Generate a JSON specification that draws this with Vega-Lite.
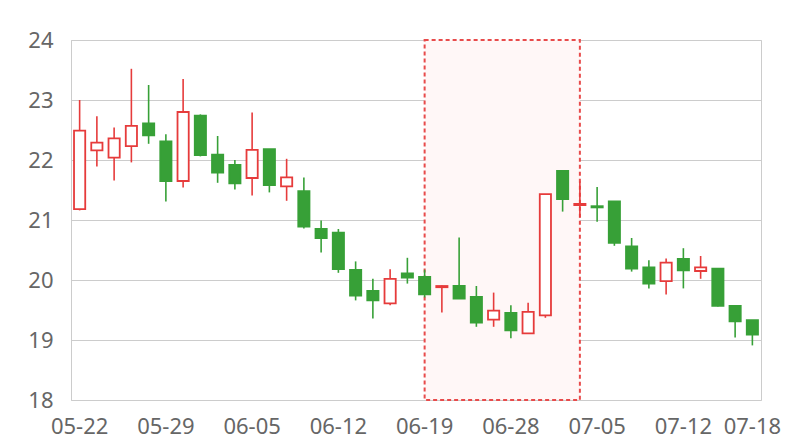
{
  "$schema": "https://vega.github.io/schema/vega-lite/v6.json",
  "width": 690,
  "height": 360,
  "autosize": "none",
  "padding": {"left": 71, "top": 40, "right": 39, "bottom": 40},
  "background": "white",
  "config": {
    "view": {"stroke": "#cccccc", "strokeWidth": 1},
    "font": "Noto Sans"
  },
  "datasets": {
    "candles": [
      {"date": "05-22", "open": 21.18, "close": 22.49, "high": 23.0, "low": 21.16},
      {"date": "05-23", "open": 22.16, "close": 22.29, "high": 22.73, "low": 21.89},
      {"date": "05-24", "open": 22.04, "close": 22.36, "high": 22.54, "low": 21.66},
      {"date": "05-25", "open": 22.23, "close": 22.57, "high": 23.52, "low": 21.96},
      {"date": "05-26", "open": 22.61, "close": 22.41, "high": 23.25, "low": 22.27},
      {"date": "05-29", "open": 22.31, "close": 21.65, "high": 22.43, "low": 21.31},
      {"date": "05-30", "open": 21.65, "close": 22.8, "high": 23.35, "low": 21.54},
      {"date": "05-31", "open": 22.74, "close": 22.08, "high": 22.76, "low": 22.06},
      {"date": "06-01", "open": 22.09, "close": 21.79, "high": 22.4, "low": 21.62},
      {"date": "06-02", "open": 21.92, "close": 21.61, "high": 22.0, "low": 21.51},
      {"date": "06-05", "open": 21.7, "close": 22.17, "high": 22.79, "low": 21.41},
      {"date": "06-06", "open": 22.18, "close": 21.58, "high": 22.18, "low": 21.46},
      {"date": "06-07", "open": 21.56, "close": 21.71, "high": 22.02, "low": 21.32},
      {"date": "06-08", "open": 21.48, "close": 20.89, "high": 21.71, "low": 20.86},
      {"date": "06-09", "open": 20.85, "close": 20.7, "high": 20.99, "low": 20.46},
      {"date": "06-12", "open": 20.79, "close": 20.18, "high": 20.85, "low": 20.12},
      {"date": "06-13", "open": 20.17, "close": 19.74, "high": 20.31, "low": 19.66},
      {"date": "06-14", "open": 19.82, "close": 19.66, "high": 20.02, "low": 19.36},
      {"date": "06-15", "open": 19.61, "close": 20.02, "high": 20.18, "low": 19.58},
      {"date": "06-16", "open": 20.11, "close": 20.04, "high": 20.37, "low": 19.94},
      {"date": "06-19", "open": 20.05, "close": 19.76, "high": 20.17, "low": 19.71},
      {"date": "06-20", "open": 19.88, "close": 19.9, "high": 19.91, "low": 19.46},
      {"date": "06-21", "open": 19.9, "close": 19.69, "high": 20.71, "low": 19.69},
      {"date": "06-26", "open": 19.72, "close": 19.29, "high": 19.9, "low": 19.22},
      {"date": "06-27", "open": 19.34, "close": 19.49, "high": 19.79, "low": 19.22},
      {"date": "06-28", "open": 19.45, "close": 19.16, "high": 19.58, "low": 19.03},
      {"date": "06-29", "open": 19.11, "close": 19.47, "high": 19.62, "low": 19.11},
      {"date": "06-30", "open": 19.41, "close": 21.43, "high": 21.43, "low": 19.37},
      {"date": "07-03", "open": 21.82, "close": 21.35, "high": 21.83, "low": 21.14},
      {"date": "07-04", "open": 21.25, "close": 21.27, "high": 21.64, "low": 21.04},
      {"date": "07-05", "open": 21.23, "close": 21.21, "high": 21.55, "low": 20.97},
      {"date": "07-06", "open": 21.31, "close": 20.62, "high": 21.31, "low": 20.57},
      {"date": "07-07", "open": 20.56, "close": 20.19, "high": 20.7, "low": 20.14},
      {"date": "07-10", "open": 20.21, "close": 19.94, "high": 20.33, "low": 19.86},
      {"date": "07-11", "open": 19.98, "close": 20.29, "high": 20.36, "low": 19.76},
      {"date": "07-12", "open": 20.35, "close": 20.16, "high": 20.53, "low": 19.86},
      {"date": "07-13", "open": 20.15, "close": 20.21, "high": 20.4, "low": 20.02},
      {"date": "07-14", "open": 20.19, "close": 19.57, "high": 20.19, "low": 19.56},
      {"date": "07-17", "open": 19.57, "close": 19.31, "high": 19.57, "low": 19.04},
      {"date": "07-18", "open": 19.33, "close": 19.09, "high": 19.33, "low": 18.91}
    ],
    "highlight": [
      {"start": "06-19", "end": "07-04", "bottom": 18, "top": 24}
    ]
  },
  "encoding": {
    "x": {
      "field": "date",
      "type": "ordinal",
      "scale": {"type": "band", "paddingInner": 0, "paddingOuter": 0},
      "axis": {
        "title": null,
        "values": ["05-22", "05-29", "06-05", "06-12", "06-19", "06-28", "07-05", "07-12", "07-18"],
        "labelAngle": 0,
        "labelFontSize": 22,
        "labelColor": "#666666",
        "labelPadding": 16,
        "ticks": false,
        "domain": false,
        "grid": false
      }
    }
  },
  "layer": [
    {
      "data": {"name": "highlight"},
      "mark": {"type": "rect", "fill": "#fff7f7", "stroke": "#e84b4b", "strokeWidth": 2, "strokeDash": [4, 3]},
      "encoding": {
        "x": {"field": "start", "type": "ordinal", "bandPosition": 0.5},
        "x2": {"field": "end", "bandPosition": 0.5},
        "y": {"field": "bottom", "type": "quantitative"},
        "y2": {"field": "top"}
      }
    },
    {
      "data": {"name": "candles"},
      "mark": {"type": "rule", "strokeWidth": 1.6},
      "encoding": {
        "y": {
          "field": "low",
          "type": "quantitative",
          "scale": {"domain": [18, 24], "nice": false, "zero": false},
          "axis": {
            "title": null,
            "values": [18, 19, 20, 21, 22, 23, 24],
            "format": "d",
            "labelFontSize": 22,
            "labelColor": "#666666",
            "labelPadding": 18,
            "ticks": false,
            "domainColor": "#cccccc",
            "gridColor": "#cccccc",
            "gridWidth": 1
          }
        },
        "y2": {"field": "high"},
        "color": {
          "condition": {"test": "datum.close >= datum.open", "value": "#e63b3b"},
          "value": "#37a037"
        }
      }
    },
    {
      "data": {"name": "candles"},
      "mark": {"type": "bar", "width": {"band": 0.65}, "strokeWidth": 1.8},
      "encoding": {
        "y": {"field": "open", "type": "quantitative"},
        "y2": {"field": "close"},
        "fill": {
          "condition": {"test": "datum.close >= datum.open", "value": "#ffffff"},
          "value": "#37a037"
        },
        "stroke": {
          "condition": {"test": "datum.close >= datum.open", "value": "#e63b3b"},
          "value": "#37a037"
        }
      }
    }
  ]
}
